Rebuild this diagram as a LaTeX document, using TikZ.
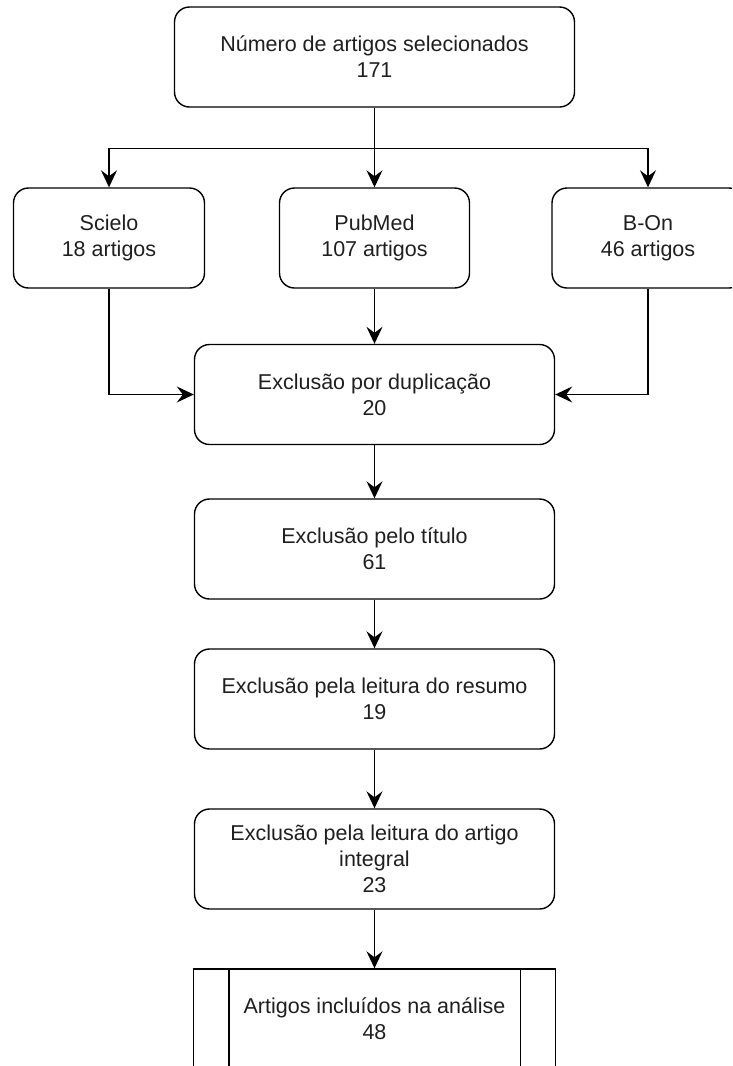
\documentclass[tikz,border=0pt]{standalone}
\usepackage{fontspec}
\setmainfont{Liberation Sans}
\usetikzlibrary{arrows.meta}
\begin{document}
\begin{tikzpicture}[x=1pt,y=-1pt,
  flowbox/.style={draw=black, line width=1.4pt, rounded corners=15pt, align=center,
    font=\fontsize{21.5}{26}\selectfont, text=black!88, inner sep=0pt, minimum height=100pt},
  procbox/.style={flowbox, rounded corners=0pt},
  conn/.style={line width=1.4pt, -{Stealth[length=17pt,width=16pt,inset=6pt]}}]
\useasboundingbox (0,0) rectangle (732,1066);
\clip (0,0) rectangle (732,1066);
\node[flowbox, minimum width=400pt] (top) at (374.5,57) {Número de artigos selecionados\\171};
\node[flowbox, minimum width=191pt] (sci) at (109,238) {Scielo\\18 artigos};
\node[flowbox, minimum width=190pt] (pub) at (374.5,238) {PubMed\\107 artigos};
\node[flowbox, minimum width=192pt] (bon) at (648,238) {B-On\\46 artigos};
\node[flowbox, minimum width=360pt] (dup) at (374.5,394.5) {Exclusão por duplicação\\20};
\node[flowbox, minimum width=360pt] (tit) at (374.5,549) {Exclusão pelo título\\61};
\node[flowbox, minimum width=360pt] (res) at (374.5,699) {Exclusão pela leitura do resumo\\19};
\node[flowbox, minimum width=360pt] (int) at (374.5,859) {Exclusão pela leitura do artigo\\integral\\23};
\node[procbox, minimum width=362pt] (fin) at (374.5,1019) {Artigos incluídos na análise\\48};
\draw[line width=1.4pt] ([xshift=36pt]fin.north west) -- ([xshift=36pt]fin.south west);
\draw[line width=1.4pt] ([xshift=-36pt]fin.north east) -- ([xshift=-36pt]fin.south east);
\draw[conn] (top.south) -- (pub.north);
\draw[conn] (top.south) -- ++(0,41) -| (sci.north);
\draw[conn] (top.south) -- ++(0,41) -| (bon.north);
\draw[conn] (sci.south) |- (dup.west);
\draw[conn] (bon.south) |- (dup.east);
\draw[conn] (pub.south) -- (dup.north);
\draw[conn] (dup.south) -- (tit.north);
\draw[conn] (tit.south) -- (res.north);
\draw[conn] (res.south) -- (int.north);
\draw[conn] (int.south) -- (fin.north);
\end{tikzpicture}
\end{document}
